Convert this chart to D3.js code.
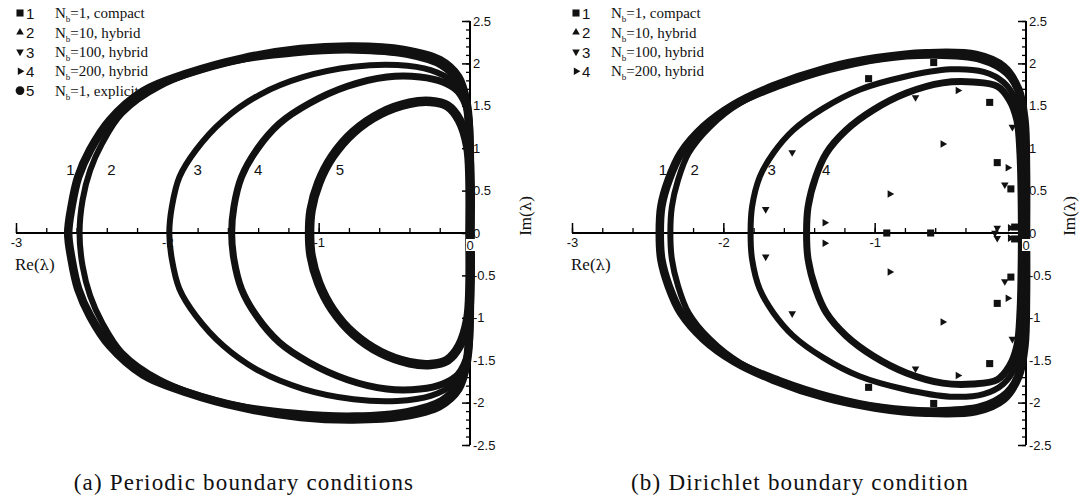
<!DOCTYPE html>
<html>
<head>
<meta charset="utf-8">
<script src="https://cdn.jsdelivr.net/npm/d3@7/dist/d3.min.js"></script>
<style>
body { margin: 0; background: #fff; }
svg { display: block; }
.tick text { font-family: "Liberation Sans", Arial, sans-serif; font-size: 13px; fill: #111; }
.num { font-family: "Liberation Sans", Arial, sans-serif; font-size: 15px; fill: #111; }
.serif { font-family: "Liberation Serif", "Times New Roman", serif; fill: #111; }
</style>
</head>
<body>
<svg id="chart" width="1080" height="500"></svg>
<script>
// upper halves of the spectra [Re, Im]; the lower half is the conjugate
var periodic1 = [[-2.655,0],[-2.633,0.31],[-2.589,0.66],[-2.51,0.98],[-2.38,1.33],[-2.16,1.67],[-1.87,1.88],[-1.50,2.06],[-1.12,2.17],[-0.77,2.20],[-0.44,2.16],[-0.20,2.04],[-0.077,1.84],[-0.022,1.53],[-0.004,1.14],[0,0.56],[0,0]];
var periodic2 = [[-2.58,0],[-2.56,0.39],[-2.51,0.74],[-2.43,1.06],[-2.30,1.41],[-2.05,1.73],[-1.62,2.00],[-1.15,2.12],[-0.76,2.15],[-0.42,2.10],[-0.19,1.97],[-0.07,1.75],[-0.012,1.42],[0,0.9],[0,0]];
var periodic3 = [[-1.987,0],[-1.97,0.31],[-1.92,0.66],[-1.81,0.98],[-1.63,1.33],[-1.39,1.63],[-1.10,1.84],[-0.77,1.96],[-0.48,1.98],[-0.26,1.92],[-0.11,1.78],[-0.03,1.57],[-0.005,1.26],[0,0.75],[0,0]];
var periodic4 = [[-1.575,0],[-1.56,0.31],[-1.51,0.66],[-1.41,0.98],[-1.26,1.29],[-1.06,1.53],[-0.81,1.73],[-0.55,1.84],[-0.33,1.84],[-0.18,1.78],[-0.08,1.67],[-0.015,1.43],[0,1.14],[0,0.5],[0,0]];
var periodic5 = [[-1.06,0],[-1.05,0.27],[-1.00,0.59],[-0.91,0.90],[-0.77,1.19],[-0.59,1.41],[-0.40,1.53],[-0.26,1.55],[-0.15,1.50],[-0.07,1.33],[-0.015,1.02],[0,0.63],[0,0]];

var dirichlet1 = [[-2.42,0],[-2.41,0.31],[-2.36,0.63],[-2.28,0.94],[-2.13,1.25],[-1.93,1.51],[-1.67,1.73],[-1.32,1.94],[-0.99,2.06],[-0.66,2.12],[-0.33,2.10],[-0.15,1.96],[-0.05,1.69],[-0.01,1.33],[0,0.75],[0,0]];
var dirichlet2 = [[-2.35,0],[-2.34,0.31],[-2.30,0.62],[-2.23,0.94],[-2.09,1.25],[-1.89,1.53],[-1.63,1.73],[-1.30,1.92],[-0.95,2.05],[-0.61,2.09],[-0.30,2.04],[-0.13,1.88],[-0.04,1.61],[-0.015,1.26],[-0.01,0.6],[-0.01,0]];
var dirichlet3 = [[-1.82,0],[-1.81,0.31],[-1.76,0.66],[-1.67,0.94],[-1.54,1.21],[-1.34,1.47],[-1.10,1.69],[-0.81,1.84],[-0.50,1.93],[-0.28,1.90],[-0.15,1.78],[-0.07,1.57],[-0.04,1.26],[-0.03,0.75],[-0.02,0]];
var dirichlet4 = [[-1.45,0],[-1.44,0.31],[-1.39,0.66],[-1.32,0.94],[-1.19,1.21],[-1.01,1.45],[-0.79,1.65],[-0.55,1.77],[-0.35,1.78],[-0.19,1.73],[-0.11,1.57],[-0.06,1.33],[-0.04,0.94],[-0.03,0]];

// loose eigenvalues of the Dirichlet case (upper half, Im >= 0)
var looseSquares = [[-0.61,2.01],[-1.04,1.82],[-0.24,1.54],[-0.19,0.83],[-0.10,0.52],[-0.92,0],[-0.63,0],[-0.075,0.07]];
var looseDown = [[-0.73,1.60],[-1.545,0.95],[-1.72,0.28],[-0.205,0],[-0.09,1.25],[-0.14,0.57],[-0.19,0.06]];
var looseRight = [[-0.45,1.68],[-0.55,1.05],[-0.90,0.46],[-1.33,0.12],[-0.12,0.77],[-0.105,0.06]];

var periodicNames = ['=1, compact', '=10, hybrid', '=100, hybrid', '=200, hybrid', '=1, explicit'];
var dirichletNames = ['=1, compact', '=10, hybrid', '=100, hybrid', '=200, hybrid'];
var periodicLabelPos = [[-2.64,0.74],[-2.37,0.74],[-1.80,0.74],[-1.40,0.74],[-0.86,0.74]];
var dirichletLabelPos = [[-2.40,0.74],[-2.19,0.74],[-1.68,0.74],[-1.32,0.74]];

var xMajor = [-3, -2, -1, 0];
var yMajor = [-2.5, -2, -1.5, -1, -0.5, 0, 0.5, 1, 1.5, 2, 2.5];
var xMinor = d3.range(-30, 1, 2).map(function(d) { return d / 10; });
var yMinor = d3.range(-25, 26).map(function(d) { return d / 10; });

var svg = d3.select('#chart');
var symbolTypes = ['square', 'up', 'down', 'right', 'circle'];
var curveWidths = [8.5, 6, 6, 7, 9.5];

var yScale = d3.scaleLinear().domain([-2.5, 2.5]).range([445, 21]);

function symbolPath(kind, size) {
  if (kind === 'square') return d3.symbol().type(d3.symbolSquare).size(size)();
  if (kind === 'circle') return d3.symbol().type(d3.symbolCircle).size(size * 1.2)();
  return d3.symbol().type(d3.symbolTriangle).size(size * 0.5)();
}
function symbolRotate(kind) {
  if (kind === 'down') return 180;
  if (kind === 'right') return 90;
  return 0;
}

// upper half -> full closed loop with the conjugate values
function fullLoop(upper) {
  var lower = upper.slice().reverse().map(function(p) { return [p[0], -p[1]]; });
  return lower.concat(upper.slice(1));
}
function withConjugates(pts) {
  var out = pts.slice();
  pts.forEach(function(p) { if (p[1] > 0) out.push([p[0], -p[1]]); });
  return out;
}

function drawPanel(x0, curves, names, labelPos, loose, caption, imX) {
  var xScale = d3.scaleLinear().domain([-3, 0]).range([x0 + 16, x0 + 470]);
  var g = svg.append('g');

  // x axis: ticks point up, labels below
  g.append('g')
    .attr('transform', 'translate(0,' + yScale(0) + ')')
    .call(d3.axisBottom(xScale).tickValues(xMinor).tickSizeInner(-5).tickSizeOuter(0).tickFormat(''))
    .call(function(a) { a.select('.domain').remove(); a.selectAll('line').attr('stroke-width', 1.3); });
  g.append('g')
    .attr('transform', 'translate(0,' + yScale(0) + ')')
    .call(d3.axisBottom(xScale).tickValues(xMajor.slice(0, 3)).tickSizeInner(-10).tickSizeOuter(0).tickPadding(4)
      .tickFormat(function(d) { return String(d); }))
    .call(function(a) {
      a.select('.domain').attr('stroke-width', 2).attr('d', 'M' + xScale(-3) + ',0H' + xScale(0));
      a.selectAll('line').attr('stroke-width', 1.5);
      a.selectAll('text').attr('dy', '0.75em');
    });

  // y axis on the right, ticks pointing left
  g.append('g')
    .attr('transform', 'translate(' + xScale(0) + ',0)')
    .call(d3.axisRight(yScale).tickValues(yMinor).tickSizeInner(-4).tickSizeOuter(0).tickFormat(''))
    .call(function(a) { a.select('.domain').remove(); a.selectAll('line').attr('stroke-width', 1.3); });
  g.append('g')
    .attr('transform', 'translate(' + xScale(0) + ',0)')
    .call(d3.axisRight(yScale).tickValues(yMajor).tickSizeInner(-8).tickSizeOuter(0).tickPadding(3)
      .tickFormat(function(d) { return String(d); }))
    .call(function(a) {
      a.select('.domain').attr('stroke-width', 2).attr('d', 'M0,' + yScale(2.5) + 'V' + yScale(-2.5));
      a.selectAll('line').attr('stroke-width', 1.5);
    });

  // spectra, drawn as thick marker bands
  var line = d3.line()
    .x(function(d) { return xScale(d[0]); })
    .y(function(d) { return yScale(d[1]); })
    .curve(d3.curveCatmullRom.alpha(0.5));
  g.selectAll('path.spec')
    .data(curves).enter().append('path')
    .attr('class', 'spec')
    .attr('d', function(d) { return line(fullLoop(d)); })
    .attr('fill', 'none')
    .attr('stroke', '#111')
    .attr('stroke-linejoin', 'round')
    .attr('stroke-width', function(d, i) { return curveWidths[i]; });

  // loose eigenvalues
  loose.forEach(function(set) {
    g.selectAll(null)
      .data(withConjugates(set.pts)).enter().append('path')
      .attr('d', symbolPath(set.kind, 50))
      .attr('fill', '#111')
      .attr('transform', function(d) {
        return 'translate(' + xScale(d[0]) + ',' + yScale(d[1]) + ') rotate(' + symbolRotate(set.kind) + ')';
      });
  });

  // "0" under the origin, with a white backing as in the original
  var zx = xScale(0), zy = yScale(0) + 12;
  g.append('rect').attr('x', zx - 4).attr('y', zy - 6).attr('width', 9).attr('height', 12).attr('fill', '#fff');
  g.append('text').attr('class', 'num').style('font-size', '13px')
    .attr('x', zx).attr('y', zy).attr('dy', '0.35em').attr('text-anchor', 'middle').text('0');

  // curve numbers
  g.selectAll('text.clab')
    .data(labelPos).enter().append('text')
    .attr('class', 'num clab')
    .attr('x', function(d) { return xScale(d[0]); })
    .attr('y', function(d) { return yScale(d[1]); })
    .attr('dy', '0.35em')
    .attr('text-anchor', 'middle')
    .text(function(d, i) { return i + 1; });

  // axis titles
  var re = g.append('text').attr('class', 'serif').style('font-size', '17px')
    .attr('x', x0 + 15).attr('y', 270);
  re.append('tspan').text('Re(');
  re.append('tspan').style('font-family', '"DejaVu Serif", serif').style('font-size', '15px').text('\u03bb');
  re.append('tspan').text(')');
  var im = g.append('text').attr('class', 'serif').style('font-size', '17px')
    .attr('text-anchor', 'middle')
    .attr('transform', 'translate(' + imX + ',' + 216 + ') rotate(-90)');
  im.append('tspan').text('Im(');
  im.append('tspan').style('font-family', '"DejaVu Serif", serif').style('font-size', '15px').text('\u03bb');
  im.append('tspan').text(')');

  // legend
  var leg = g.append('g').attr('transform', 'translate(' + (x0 + 20) + ',13)');
  names.forEach(function(name, i) {
    var row = leg.append('g').attr('transform', 'translate(0,' + (i * 19.4) + ')');
    row.append('path')
      .attr('d', symbolPath(symbolTypes[i], 50))
      .attr('fill', '#111')
      .attr('transform', 'rotate(' + symbolRotate(symbolTypes[i]) + ')');
    row.append('text').attr('class', 'num').attr('x', 6).attr('dy', '0.38em').text(i + 1);
    var t = row.append('text').attr('class', 'serif').style('font-size', '15px').attr('x', 35).attr('dy', '0.35em');
    t.append('tspan').text('N');
    t.append('tspan').style('font-size', '9px').attr('dy', 4).text('b');
    t.append('tspan').attr('dy', -4).text(name);
  });

  // caption
  g.append('text').attr('class', 'serif')
    .style('font-size', '23px').style('letter-spacing', '1.2px')
    .attr('x', x0 + 244).attr('y', 490).attr('text-anchor', 'middle')
    .text(caption);
}

drawPanel(0, [periodic1, periodic2, periodic3, periodic4, periodic5], periodicNames, periodicLabelPos, [],
  '(a) Periodic boundary conditions', 531);
drawPanel(556, [dirichlet1, dirichlet2, dirichlet3, dirichlet4], dirichletNames, dirichletLabelPos,
  [{ kind: 'square', pts: looseSquares }, { kind: 'down', pts: looseDown }, { kind: 'right', pts: looseRight }],
  '(b) Dirichlet boundary condition', 1075);
</script>
</body>
</html>
